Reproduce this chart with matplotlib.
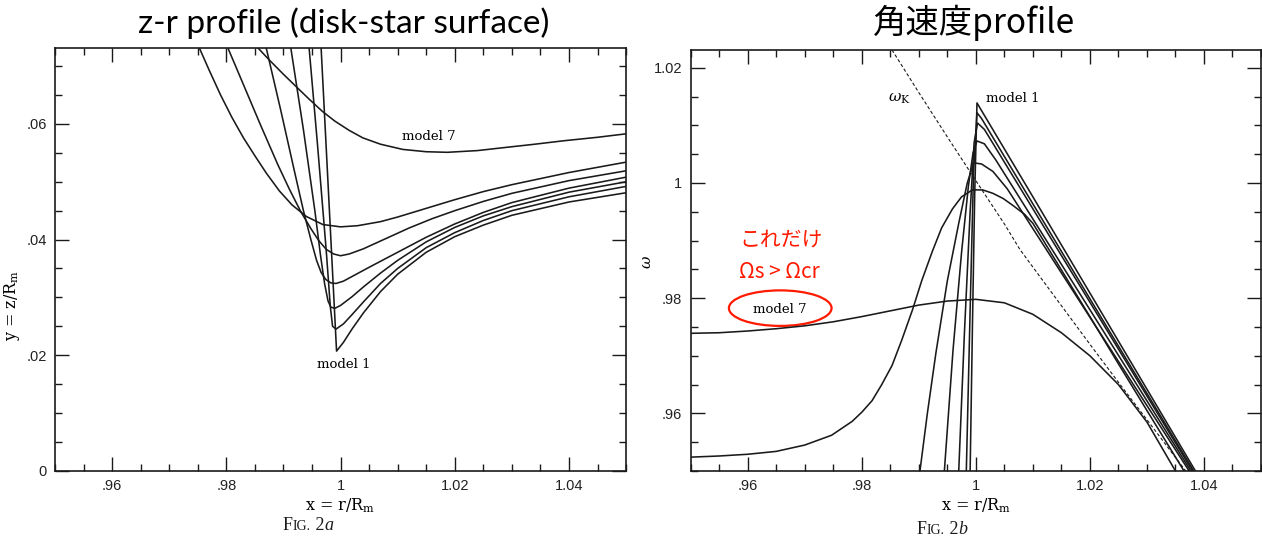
import numpy as np
import matplotlib.pyplot as plt
from matplotlib.patches import Ellipse
from matplotlib.ticker import MultipleLocator
from matplotlib.offsetbox import TextArea, HPacker, AnchoredOffsetbox

plt.rcParams['mathtext.fontset'] = 'dejavuserif'

# ---------------- Fig 2a : z-r surface ----------------
a_m1_x = [0.9966, 0.9980, 0.9993, 1.0005, 1.0020, 1.0040, 1.0070, 1.0100, 1.0150, 1.0200, 1.0250, 1.0300, 1.0400, 1.0500]
a_m1_y = [0.0731, 0.0460, 0.0207, 0.0222, 0.0245, 0.0273, 0.0310, 0.0340, 0.0378, 0.0405, 0.0425, 0.0442, 0.0465, 0.0481]
a_m2_x = [0.9945, 0.9960, 0.9975, 0.9982, 0.9986, 0.9992, 1.0005, 1.0020, 1.0040, 1.0070, 1.0100, 1.0150, 1.0200, 1.0250, 1.0300, 1.0400, 1.0500]
a_m2_y = [0.0731, 0.0560, 0.0380, 0.0285, 0.0250, 0.0245, 0.0254, 0.0270, 0.0292, 0.0324, 0.0350, 0.0386, 0.0412, 0.0433, 0.0450, 0.0474, 0.0492]
a_m3_x = [0.9913, 0.9935, 0.9955, 0.9965, 0.9972, 0.9978, 0.9983, 0.9990, 1.0000, 1.0020, 1.0040, 1.0070, 1.0100, 1.0150, 1.0200, 1.0250, 1.0300, 1.0400, 1.0500]
a_m3_y = [0.0731, 0.0590, 0.0450, 0.0372, 0.0324, 0.0294, 0.0283, 0.0281, 0.0286, 0.0301, 0.0318, 0.0342, 0.0364, 0.0396, 0.0421, 0.0441, 0.0457, 0.0482, 0.0500]
a_m4_x = [0.9870, 0.9895, 0.9920, 0.9935, 0.9948, 0.9958, 0.9966, 0.9974, 0.9983, 0.9992, 1.0005, 1.0020, 1.0050, 1.0100, 1.0150, 1.0200, 1.0250, 1.0300, 1.0400, 1.0500]
a_m4_y = [0.0731, 0.0625, 0.0515, 0.0450, 0.0400, 0.0364, 0.0343, 0.0331, 0.0325, 0.0324, 0.0328, 0.0336, 0.0352, 0.0378, 0.0404, 0.0427, 0.0447, 0.0464, 0.0489, 0.0508]
a_m5_x = [0.9803, 0.9830, 0.9860, 0.9890, 0.9910, 0.9930, 0.9948, 0.9962, 0.9975, 0.9988, 1.0000, 1.0015, 1.0040, 1.0080, 1.0120, 1.0160, 1.0200, 1.0250, 1.0300, 1.0400, 1.0500]
a_m5_y = [0.0731, 0.0668, 0.0598, 0.0530, 0.0488, 0.0449, 0.0419, 0.0398, 0.0383, 0.0375, 0.0372, 0.0375, 0.0384, 0.0402, 0.0420, 0.0436, 0.0450, 0.0466, 0.0480, 0.0502, 0.0519]
a_m6_x = [0.9753, 0.9770, 0.9790, 0.9810, 0.9830, 0.9850, 0.9870, 0.9893, 0.9915, 0.9940, 0.9969, 1.0000, 1.0030, 1.0070, 1.0100, 1.0150, 1.0200, 1.0250, 1.0300, 1.0400, 1.0500]
a_m6_y = [0.0731, 0.0693, 0.0650, 0.0611, 0.0576, 0.0545, 0.0515, 0.0484, 0.0460, 0.0440, 0.0426, 0.0422, 0.0424, 0.0431, 0.0439, 0.0454, 0.0469, 0.0483, 0.0495, 0.0516, 0.0534]
a_m7_x = [0.9856, 0.9875, 0.9900, 0.9923, 0.9945, 0.9968, 0.9990, 1.0015, 1.0039, 1.0070, 1.0109, 1.0150, 1.0187, 1.0240, 1.0285, 1.0340, 1.0391, 1.0450, 1.0500]
a_m7_y = [0.0731, 0.0711, 0.0686, 0.0664, 0.0643, 0.0622, 0.0605, 0.0589, 0.0576, 0.0565, 0.0556, 0.0552, 0.0551, 0.0554, 0.0559, 0.0565, 0.0571, 0.0577, 0.0583]

# ---------------- Fig 2b : angular velocity profile ----------------
b_m1_x = [0.9990, 0.9994, 0.9998, 1.0002, 1.0100, 1.0200, 1.0300, 1.0385]
b_m1_y = [0.9500, 0.9750, 0.9980, 1.0139, 0.9976, 0.9809, 0.9642, 0.9500]
b_m2_x = [0.99833, 0.9990, 0.9996, 1.0002, 1.0010, 1.0200, 1.0382]
b_m2_y = [0.9500, 0.9780, 1.0020, 1.0122, 1.0112, 0.9799, 0.9500]
b_m3_x = [0.9970, 0.9980, 0.9990, 0.9997, 1.0003, 1.0015, 1.0200, 1.0380]
b_m3_y = [0.9500, 0.9740, 0.9950, 1.0070, 1.0104, 1.0093, 0.9793, 0.9500]
b_m4_x = [0.99448, 0.9960, 0.9975, 0.9987, 0.9995, 1.0002, 1.0015, 1.0035, 1.0200, 1.0377]
b_m4_y = [0.9500, 0.9710, 0.9880, 0.9995, 1.0052, 1.0073, 1.0068, 1.0040, 0.9780, 0.9500]
b_m5_x = [0.9902, 0.9915, 0.9930, 0.9950, 0.9970, 0.9985, 0.9996, 1.0010, 1.0030, 1.0055, 1.0200, 1.0374]
b_m5_y = [0.9500, 0.9600, 0.9705, 0.9830, 0.9930, 1.0000, 1.0035, 1.0033, 1.0020, 0.9990, 0.9767, 0.9500]
b_m6_x = [0.9500, 0.9550, 0.9600, 0.9650, 0.9700, 0.9747, 0.9783, 0.9800, 0.9818, 0.9835, 0.9853, 0.9870,
          0.9889, 0.9905, 0.9924, 0.9940, 0.9959, 0.9975, 0.9994, 1.0012, 1.0030, 1.0048, 1.0065, 1.0085,
          1.0100, 1.0150, 1.0200, 1.0250, 1.0300, 1.0365]
b_m6_y = [0.9524, 0.9526, 0.9529, 0.9534, 0.9545, 0.9562, 0.9586, 0.9602, 0.9622, 0.9650, 0.9683, 0.9727,
          0.9780, 0.9830, 0.9882, 0.9922, 0.9955, 0.9976, 0.9988, 0.9988, 0.9982, 0.9973, 0.9961, 0.9946,
          0.9930, 0.9849, 0.9768, 0.9686, 0.9605, 0.9500]
b_m7_x = [0.9500, 0.9550, 0.9600, 0.9650, 0.9700, 0.9750, 0.9800, 0.9850, 0.9900, 0.9950, 1.0000, 1.0050,
          1.0100, 1.0150, 1.0200, 1.0250, 1.0300, 1.0350]
b_m7_y = [0.9739, 0.9740, 0.9743, 0.9747, 0.9752, 0.9759, 0.9768, 0.9778, 0.9788, 0.9795, 0.9798, 0.9792,
          0.9772, 0.9740, 0.9700, 0.9650, 0.9585, 0.9500]
kep_x = [0.9853, 0.9900, 0.9950, 1.0000, 1.0050, 1.0077, 1.0100, 1.0150, 1.0200, 1.0250, 1.0300, 1.0368]
kep_y = [1.0231, 1.0157, 1.0080, 1.0004, 0.9929, 0.9885, 0.9854, 0.9787, 0.9720, 0.9654, 0.9589, 0.9500]

x_ticks = [0.96, 0.98, 1.0, 1.02, 1.04]
x_labels = ['.96', '.98', '1', '1.02', '1.04']
a_yticks = [0, 0.02, 0.04, 0.06]
a_ylabels = ['0', '.02', '.04', '.06']
b_yticks = [0.96, 0.98, 1.0, 1.02]
b_ylabels = ['.96', '.98', '1', '1.02']

a_models = [(a_m1_x, a_m1_y), (a_m2_x, a_m2_y), (a_m3_x, a_m3_y), (a_m4_x, a_m4_y),
            (a_m5_x, a_m5_y), (a_m6_x, a_m6_y), (a_m7_x, a_m7_y)]
b_models = [(b_m1_x, b_m1_y), (b_m2_x, b_m2_y), (b_m3_x, b_m3_y), (b_m4_x, b_m4_y),
            (b_m5_x, b_m5_y), (b_m6_x, b_m6_y), (b_m7_x, b_m7_y)]

ink = '#1a1a1a'
serif = 'DejaVu Serif'

fig = plt.figure(figsize=(12.62, 5.47), dpi=100)
ax1 = fig.add_axes([0.0436, 0.1395, 0.4525, 0.7722])
ax2 = fig.add_axes([0.5473, 0.1390, 0.4519, 0.7697])


def style_axes(ax, yticks, ylabels):
    ax.set_xlim(0.95, 1.05)
    ax.set_xticks(x_ticks)
    ax.set_xticklabels(x_labels)
    ax.set_yticks(yticks)
    ax.set_yticklabels(ylabels)
    ax.xaxis.set_minor_locator(MultipleLocator(0.005))
    ax.yaxis.set_minor_locator(MultipleLocator(0.005))
    ax.tick_params(which='both', direction='in', top=True, right=True, color=ink, width=1.0)
    ax.tick_params(which='major', length=10, pad=6)
    ax.tick_params(which='minor', length=5)
    for lab in ax.get_xticklabels() + ax.get_yticklabels():
        lab.set_family('Liberation Sans')
        lab.set_fontsize(10.5)
        lab.set_color('#222222')
    for sp in ax.spines.values():
        sp.set_linewidth(1.2)
        sp.set_color(ink)


# left panel
for xs, ys in a_models:
    ax1.plot(xs, ys, color=ink, lw=1.15, solid_joinstyle='round')
ax1.set_ylim(0, 0.0731)
style_axes(ax1, a_yticks, a_ylabels)
ax1.text(1.0155, 0.0578, 'model 7', ha='center', va='center', family=serif, fontsize=9.5)
ax1.text(1.0006, 0.0183, 'model 1', ha='center', va='center', family=serif, fontsize=9.5)
ax1.set_xlabel('x = r/R$_{\\rm m}$', family=serif, fontsize=11.5, labelpad=2)
ax1.set_ylabel('y = z/R$_{\\rm m}$', family=serif, fontsize=11.5)
ax1.yaxis.set_label_coords(-0.058, 0.39)

# right panel
for xs, ys in b_models:
    ax2.plot(xs, ys, color=ink, lw=1.15, solid_joinstyle='round')
ax2.plot(kep_x, kep_y, color=ink, lw=0.8, ls=(0, (3, 2)))
ax2.set_ylim(0.95, 1.0231)
style_axes(ax2, b_yticks, b_ylabels)
ax2.text(0.9866, 1.0146, r'$\omega_{\rm K}$', ha='center', va='center', fontsize=11)
ax2.text(1.0065, 1.0147, 'model 1', ha='center', va='center', family=serif, fontsize=9.5)
ax2.text(0.9656, 0.9781, 'model 7', ha='center', va='center', family=serif, fontsize=9.5)
ax2.add_patch(Ellipse((0.9657, 0.97827), 0.018, 0.00617, fill=False, ec='#ff1a00', lw=1.6))
ax2.text(0.9659, 0.9901, 'これだけ', ha='center', va='center', color='#ff1a00',
         family=['Noto Sans CJK JP', 'DejaVu Sans'], fontsize=15)
ax2.text(0.9656, 0.9846, 'Ωs > Ωcr', ha='center', va='center', color='#ff1a00',
         family=['Noto Sans CJK JP', 'DejaVu Sans'], fontsize=15)
ax2.set_xlabel('x = r/R$_{\\rm m}$', family=serif, fontsize=11.5, labelpad=2)
ax2.set_ylabel(r'$\omega$', fontsize=11)
ax2.yaxis.set_label_coords(-0.064, 0.496)

# slide titles
fig.text(344 / 1262, 1 - 23 / 547, 'z-r profile (disk-star surface)', ha='center', va='center',
         family='Lato', fontsize=24)
fig.text(974 / 1262, 1 - 23 / 547, '角速度profile', ha='center', va='center',
         family=['Noto Sans CJK JP', 'DejaVu Sans'], fontsize=24)


def fig_caption(x, y, letter):
    big = dict(family='Liberation Serif', size=13, color=ink)
    small = dict(family='Liberation Serif', size=10, color=ink)
    ital = dict(family='Liberation Serif', size=13, style='italic', color=ink)
    box = HPacker(children=[TextArea('F', textprops=big), TextArea('IG.', textprops=small),
                            TextArea(' 2', textprops=big), TextArea(letter, textprops=ital)],
                  align='baseline', pad=0, sep=0)
    ab = AnchoredOffsetbox(loc='center', child=box, bbox_to_anchor=(x, y),
                           bbox_transform=fig.transFigure, frameon=False, pad=0, borderpad=0)
    fig.add_artist(ab)


fig_caption(308 / 1262, 1 - 526 / 547, 'a')
fig_caption(942 / 1262, 1 - 530 / 547, 'b')

fig.savefig('out.png', dpi=100, facecolor='white')
